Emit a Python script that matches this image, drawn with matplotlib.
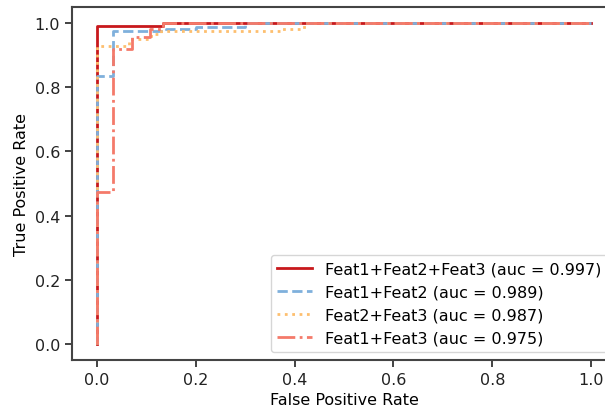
import matplotlib
matplotlib.use("Agg")
import matplotlib.pyplot as plt

# ROC curves
labels = ["Feat1+Feat2+Feat3 (auc = 0.997)",
          "Feat1+Feat2 (auc = 0.989)",
          "Feat2+Feat3 (auc = 0.987)",
          "Feat1+Feat3 (auc = 0.975)"]

fpr_123 = [0, 0, 0.135, 0.135, 1]
tpr_123 = [0, 0.99, 0.99, 1, 1]

fpr_12 = [0, 0, 0.033, 0.033, 0.14, 0.14, 0.2, 0.2, 0.3, 0.3, 1]
tpr_12 = [0, 0.835, 0.835, 0.975, 0.975, 0.98, 0.98, 0.988, 0.988, 1, 1]

fpr_23 = [0, 0, 0.065, 0.065, 0.11, 0.11, 0.13, 0.13, 0.375, 0.375, 0.42, 0.42, 1]
tpr_23 = [0, 0.93, 0.93, 0.95, 0.95, 0.966, 0.966, 0.975, 0.975, 0.982, 0.982, 1, 1]

fpr_13 = [0, 0, 0.033, 0.033, 0.071, 0.071, 0.107, 0.107, 0.134, 0.134, 1]
tpr_13 = [0, 0.475, 0.475, 0.92, 0.92, 0.956, 0.956, 0.981, 0.981, 1, 1]

curves = [(fpr_123, tpr_123), (fpr_12, tpr_12), (fpr_23, tpr_23), (fpr_13, tpr_13)]
colors = ["#c8181c", "#7fb0dc", "#fdbf6f", "#f47a6a"]
styles = ["-", "--", ":", "-."]

plt.rcParams["font.size"] = 11.5

fig = plt.figure(figsize=(6.05, 4.1), dpi=100)
ax = fig.add_axes([72 / 605, 49 / 410, 544 / 605, 353 / 410])

for (x, y), c, ls, lab in zip(curves, colors, styles, labels):
    ax.plot(x, y, color=c, linestyle=ls, linewidth=2, label=lab)

ax.set_xlim(-0.05, 1.05)
ax.set_ylim(-0.05, 1.05)
ax.set_xticks([0, 0.2, 0.4, 0.6, 0.8, 1.0])
ax.set_yticks([0, 0.2, 0.4, 0.6, 0.8, 1.0])
ax.set_xlabel("False Positive Rate")
ax.set_ylabel("True Positive Rate")
for s in ax.spines.values():
    s.set_color("#444444")
    s.set_linewidth(1.5)
ax.tick_params(colors="#222222", length=5, width=1.2)

ax.legend(loc="lower right", handlelength=2.2)

fig.savefig("out.png", dpi=100)
